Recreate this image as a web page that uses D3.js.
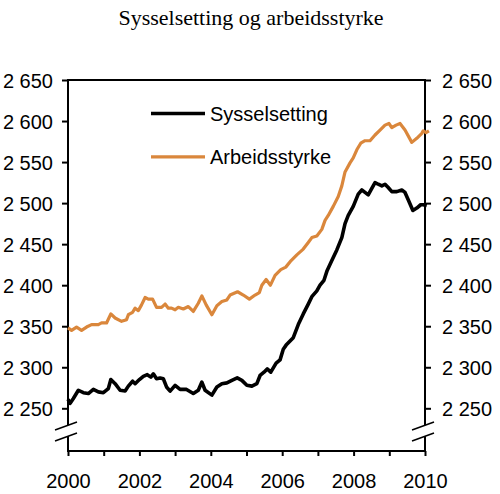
<!DOCTYPE html>
<html lang="no">
<head>
<meta charset="UTF-8">
<title>Sysselsetting og arbeidsstyrke</title>
<script src="https://d3js.org/d3.v7.min.js"></script>
<style>
    body { margin: 0; background: #fff; }
    svg { display: block; }
    .title { font-family: "Liberation Serif", "Times New Roman", serif; font-size: 22px; fill: #000; }
    .axis text, .legend text { font-family: "Liberation Sans", Arial, sans-serif; font-size: 20px; fill: #000; }
    .axis line { stroke: #000; stroke-width: 2px; }
    .frame { fill: none; stroke: #000; stroke-width: 2px; }
</style>
</head>
<body>
<svg id="chart" width="500" height="494"></svg>
<script>
    // --- Data (decimal year, thousand persons) ---
    const sysYears = [2000.00, 2000.06, 2000.15, 2000.29, 2000.43, 2000.57, 2000.71, 2000.85, 2000.99,
        2001.13, 2001.20, 2001.32, 2001.46, 2001.60, 2001.69, 2001.81, 2001.88, 2002.00, 2002.11,
        2002.22, 2002.32, 2002.39, 2002.48, 2002.58, 2002.67, 2002.76, 2002.86, 2003.00, 2003.14,
        2003.32, 2003.51, 2003.65, 2003.75, 2003.84, 2004.03, 2004.17, 2004.31, 2004.45, 2004.59,
        2004.74, 2004.87, 2005.01, 2005.15, 2005.29, 2005.38, 2005.49, 2005.58, 2005.68, 2005.83,
        2005.94, 2006.03, 2006.11, 2006.22, 2006.31, 2006.45, 2006.59, 2006.73, 2006.83, 2006.97,
        2007.06, 2007.17, 2007.26, 2007.39, 2007.53, 2007.67, 2007.76, 2007.85, 2007.99, 2008.13,
        2008.23, 2008.32, 2008.41, 2008.51, 2008.60, 2008.69, 2008.79, 2008.88, 2008.97, 2009.07,
        2009.21, 2009.35, 2009.44, 2009.53, 2009.66, 2009.77, 2009.88, 2009.95, 2010.05];
    const sysValues = [2261, 2256, 2262, 2272, 2269, 2268, 2273, 2270, 2269,
        2274, 2285, 2280, 2272, 2271, 2277, 2283, 2280, 2285, 2289,
        2291, 2288, 2292, 2286, 2287, 2286, 2276, 2271, 2278, 2273,
        2273, 2268, 2272, 2282, 2272, 2266, 2276, 2280, 2281, 2284,
        2287, 2284, 2278, 2277, 2280, 2290, 2294, 2298, 2294, 2305,
        2309, 2322, 2327, 2332, 2336, 2352, 2365, 2377, 2386, 2393,
        2400, 2406, 2418, 2430, 2443, 2458, 2475, 2485, 2496, 2511,
        2516, 2513, 2510, 2518, 2525, 2523, 2521, 2523, 2519, 2514,
        2514, 2516, 2513, 2504, 2491, 2494, 2498, 2498, 2497];

    const arbYears = [2000.00, 2000.10, 2000.24, 2000.38, 2000.52, 2000.66, 2000.85, 2000.94, 2001.08,
        2001.20, 2001.32, 2001.50, 2001.64, 2001.69, 2001.81, 2001.88, 2001.97, 2002.06, 2002.16,
        2002.25, 2002.37, 2002.48, 2002.62, 2002.72, 2002.81, 2002.90, 2003.00, 2003.09, 2003.23,
        2003.37, 2003.51, 2003.65, 2003.75, 2003.87, 2004.03, 2004.17, 2004.31, 2004.45, 2004.54,
        2004.75, 2004.91, 2005.08, 2005.24, 2005.36, 2005.43, 2005.55, 2005.67, 2005.80, 2005.96,
        2006.10, 2006.25, 2006.41, 2006.59, 2006.73, 2006.83, 2006.97, 2007.11, 2007.20, 2007.29,
        2007.43, 2007.57, 2007.67, 2007.76, 2007.90, 2007.99, 2008.09, 2008.20, 2008.32, 2008.46,
        2008.60, 2008.74, 2008.88, 2008.99, 2009.07, 2009.19, 2009.30, 2009.44, 2009.63, 2009.77,
        2009.91, 2009.95, 2010.03, 2010.11];
    const arbValues = [2348, 2345, 2349, 2345, 2349, 2352, 2352, 2354, 2354,
        2365, 2360, 2356, 2358, 2364, 2367, 2372, 2369, 2376, 2385,
        2383, 2383, 2373, 2373, 2377, 2372, 2372, 2370, 2373, 2371,
        2374, 2368, 2378, 2387, 2376, 2364, 2375, 2380, 2382, 2388,
        2392, 2388, 2383, 2388, 2391, 2400, 2407, 2400, 2412, 2419,
        2422, 2430, 2437, 2444, 2452, 2458, 2460, 2468, 2479, 2485,
        2496, 2508, 2521, 2538, 2549, 2555, 2565, 2573, 2576, 2576,
        2583, 2589, 2595, 2597, 2592, 2595, 2597, 2589, 2574, 2579,
        2585, 2588, 2586, 2588];

    const seriesNames = ["Sysselsetting", "Arbeidsstyrke"];
    const seriesColors = ["#000000", "#da873c"];
    const yTickValues = [2250, 2300, 2350, 2400, 2450, 2500, 2550, 2600, 2650];
    const xTickYears = [2000, 2001, 2002, 2003, 2004, 2005, 2006, 2007, 2008, 2009, 2010];
    const xLabelYears = [2000, 2002, 2004, 2006, 2008, 2010];

    // --- Layout ---
    const svg = d3.select("#chart");
    const margin = { top: 80, right: 75, bottom: 43, left: 68 };
    const width = 500 - margin.left - margin.right;
    const height = 494 - margin.top - margin.bottom;
    const g = svg.append("g").attr("transform", `translate(${margin.left},${margin.top})`);

    const x = d3.scaleLinear().domain([2000, 2010]).range([0, width]);
    // bottom of the frame sits below 2 250 (axis break)
    const y = d3.scaleLinear().domain([2250, 2650]).range([328.3, 0]);

    const fmt = d3.formatLocale({ decimal: ",", thousands: " ", grouping: [3], currency: ["", " kr"] }).format(",d");

    svg.append("text")
        .attr("class", "title")
        .attr("x", 251)
        .attr("y", 25)
        .attr("text-anchor", "middle")
        .text("Sysselsetting og arbeidsstyrke");

    // Axes
    const yLeft = g.append("g").attr("class", "axis")
        .call(d3.axisLeft(y).tickValues(yTickValues).tickSize(6).tickPadding(9).tickFormat(fmt));
    const yRight = g.append("g").attr("class", "axis")
        .attr("transform", `translate(${width},0)`)
        .call(d3.axisRight(y).tickValues(yTickValues).tickSize(6).tickPadding(11).tickFormat(fmt));
    const xAxis = g.append("g").attr("class", "axis")
        .attr("transform", `translate(0,${height})`)
        .call(d3.axisBottom(x).tickValues(xTickYears).tickSize(5)
            .tickFormat(d => xLabelYears.includes(d) ? d : ""));
    xAxis.selectAll("text").attr("y", 36.5).attr("dy", 0);
    [yLeft, yRight, xAxis].forEach(a => a.select(".domain").remove());
    [yLeft, yRight].forEach(a => a.selectAll("text").attr("dy", "0.36em"));

    // Frame
    g.append("rect").attr("class", "frame")
        .attr("x", 0).attr("y", 0).attr("width", width).attr("height", height);

    // Axis break marks (left and right)
    [0, width].forEach(ax => {
        const bx0 = ax - 13, bx1 = ax + 9;
        const top = height - 21, bot = height - 10;
        g.append("polygon")
            .attr("points", `${bx0},${top} ${bx1},${top - 8} ${bx1},${bot - 8} ${bx0},${bot}`)
            .attr("fill", "#fff");
        [top, bot].forEach(yy => {
            g.append("line")
                .attr("x1", bx0).attr("y1", yy)
                .attr("x2", bx1).attr("y2", yy - 8)
                .attr("stroke", "#000").attr("stroke-width", 1.5);
        });
    });

    // Lines
    const line = d3.line().x(d => x(d[0])).y(d => y(d[1]));
    const sysData = sysYears.map((t, i) => [t, sysValues[i]]);
    const arbData = arbYears.map((t, i) => [t, arbValues[i]]);

    g.append("path").datum(arbData)
        .attr("d", line).attr("fill", "none")
        .attr("stroke", seriesColors[1]).attr("stroke-width", 3.2)
        .attr("stroke-linejoin", "round");
    g.append("path").datum(sysData)
        .attr("d", line).attr("fill", "none")
        .attr("stroke", seriesColors[0]).attr("stroke-width", 3.6)
        .attr("stroke-linejoin", "round");

    // Legend
    const legend = svg.append("g").attr("class", "legend");
    seriesNames.forEach((name, i) => {
        const ly = 113.5 + i * 43.3;
        legend.append("line")
            .attr("x1", 151).attr("x2", 205)
            .attr("y1", ly).attr("y2", ly)
            .attr("stroke", seriesColors[i]).attr("stroke-width", i === 0 ? 3.6 : 3.2);
        legend.append("text")
            .attr("x", 210).attr("y", ly).attr("dy", "0.36em")
            .text(name);
    });
</script>
</body>
</html>
